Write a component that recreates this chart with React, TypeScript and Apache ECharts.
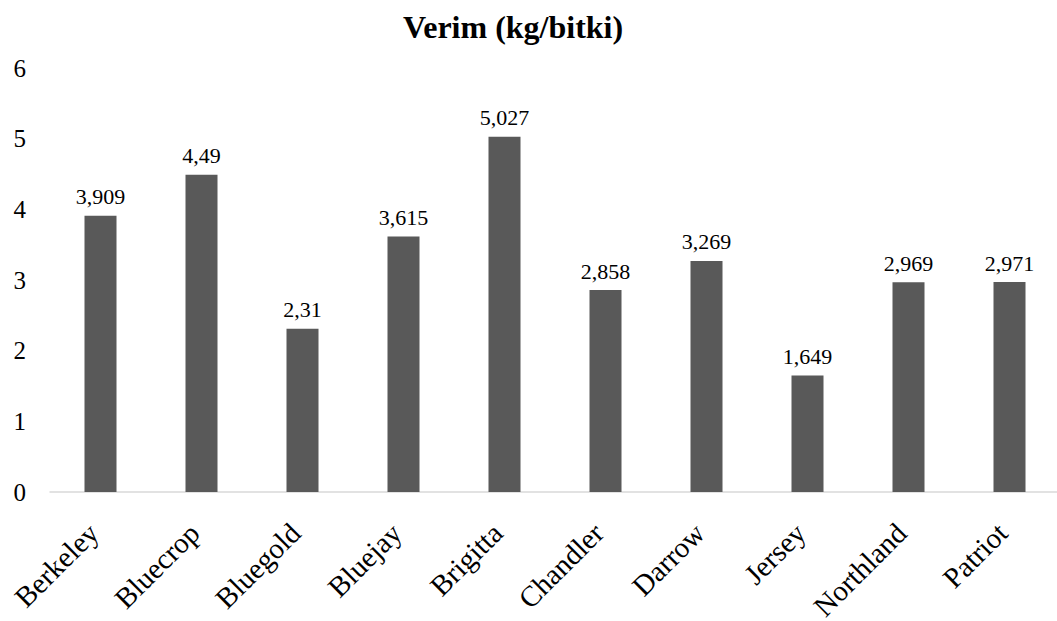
import React, { useEffect, useRef } from "react";
import * as echarts from "echarts";

const categories = ["Berkeley", "Bluecrop", "Bluegold", "Bluejay", "Brigitta", "Chandler", "Darrow", "Jersey", "Northland", "Patriot"];
const values = [3.909, 4.49, 2.31, 3.615, 5.027, 2.858, 3.269, 1.649, 2.969, 2.971];
const yTicks = [0, 1, 2, 3, 4, 5, 6];
const title = "Verim (kg/bitki)";

const FONT = "Liberation Serif";

export default function App() {
  const ref = useRef<HTMLDivElement>(null);
  useEffect(() => {
    if (!ref.current) return;
    const chart = echarts.init(ref.current, undefined, { renderer: "svg" });
    chart.setOption({
      animation: false,
      backgroundColor: "#ffffff",
      title: {
        text: title,
        left: 398,
        top: 6,
        textStyle: { fontFamily: FONT, fontWeight: "bold", fontSize: 32, color: "#000" },
      },
      grid: { left: 50, width: 1010, top: 68, bottom: 129, containLabel: false, outerBoundsMode: "none" },
      xAxis: {
        type: "category",
        data: categories,
        axisLine: { lineStyle: { color: "#d9d9d9", width: 1.5 } },
        axisTick: { show: false },
        axisLabel: {
          rotate: 45,
          interval: 0,
          margin: 29,
          padding: [0, 10, 0, 0],
          fontFamily: FONT,
          fontSize: 29,
          color: "#000",
        },
      },
      yAxis: {
        type: "value",
        min: yTicks[0],
        max: yTicks[yTicks.length - 1],
        interval: 1,
        splitLine: { show: false },
        axisLine: { show: false },
        axisTick: { show: false },
        axisLabel: { fontFamily: FONT, fontSize: 25, color: "#000", margin: 24 },
      },
      series: [
        {
          type: "bar",
          data: values,
          barWidth: 32,
          itemStyle: { color: "#595959" },
          label: {
            show: true,
            position: "top",
            distance: 8,
            fontFamily: FONT,
            fontSize: 22,
            color: "#000",
            formatter: (p: any) => String(p.value).replace(".", ","),
          },
        },
      ],
    });
    return () => chart.dispose();
  }, []);
  return <div ref={ref} style={{ width: 1057, height: 621, position: "absolute", left: 0, top: 0 }} />;
}
